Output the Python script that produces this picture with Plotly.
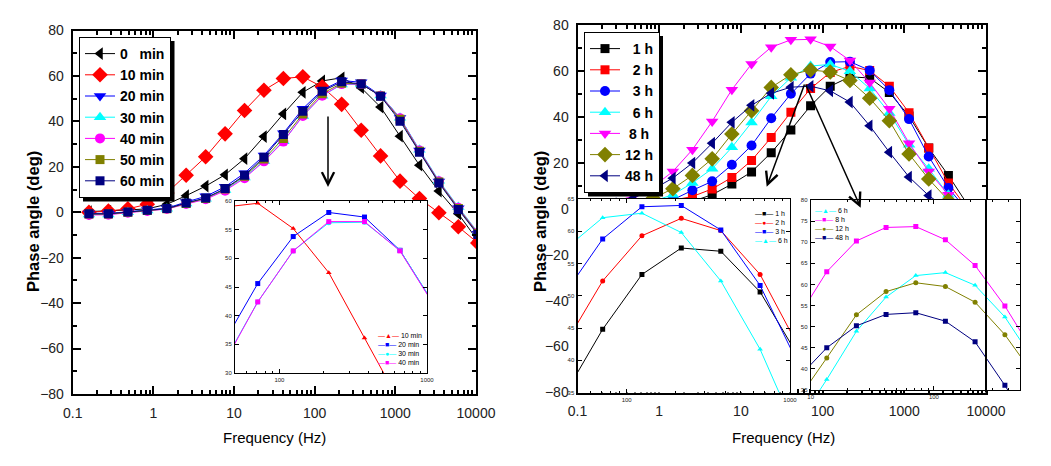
import plotly.graph_objects as go

# browser page adds an 8 px body margin; the figure is sized to fit inside it
PAGE_W, PAGE_H, BODY = 1051, 466, 8
W, H = PAGE_W - 2 * BODY, PAGE_H - 2 * BODY

# ---------------- data ----------------
freq = [0.159, 0.277, 0.483, 0.841, 1.47, 2.55, 4.45, 7.75, 13.5, 23.5, 40.9,
        71.3, 124, 216, 377, 656, 1143, 1991, 3467, 6039, 10520]

# left panel (immersion minutes)
phase_0min = [0.3, 0.5, 1, 1.5, 3.5, 7.3, 11.5, 16.5, 23.6, 33.3, 43.3, 52.8, 57.8, 59.2, 54.8, 46.3, 33.5, 20.7, 9.3, -0.7, -12.5]
phase_10min = [0.0, 0.5, 1.5, 3.5, 8.5, 16.3, 24.4, 34.5, 44.8, 53.7, 58.9, 59.6, 55.2, 47.5, 36.1, 24.8, 13.7, 6.0, -0.2, -6.4, -13.5]
phase_20min = [-0.5, -0.5, 0.2, 1.0, 1.8, 4.5, 7.0, 11.2, 17.2, 25.0, 34.8, 45.6, 53.8, 58.0, 57.2, 51.4, 41.5, 27.2, 13.5, 1.8, -9.5]
phase_30min = [-1.0, -1.0, 0, 0.8, 1.5, 3.8, 5.9, 9.8, 15.3, 22.6, 31.3, 42.4, 51.3, 56.2, 56.3, 51.4, 41.6, 27.5, 13.9, 2.3, -8.8]
phase_40min = [-1.2, -1.1, -0.2, 0.6, 1.4, 3.6, 5.7, 9.5, 15.0, 22.4, 31.1, 42.4, 51.3, 56.4, 56.4, 51.3, 41.4, 27.2, 13.6, 2.0, -9.0]
phase_50min = [-0.8, -0.8, 0, 0.8, 1.5, 3.9, 6.1, 10.2, 15.9, 23.4, 32.5, 43.2, 52.2, 56.8, 56.5, 51.2, 40.9, 26.8, 13.3, 1.7, -9.3]
phase_60min = [-0.7, -0.7, 0.1, 0.9, 1.6, 4.1, 6.3, 10.4, 16.3, 24.2, 34.2, 44.5, 53.3, 57.4, 56.5, 51.1, 40.1, 26.4, 12.9, 1.2, -9.8]

# right panel (immersion hours)
phase_1h = [-1, -0.5, 0, 1, 2, 3.2, 6.1, 10.7, 16.0, 24.4, 34.3, 44.8, 53.3, 57.4, 56.9, 50.6, 40.3, 26.4, 14.5, 1.4, -10]
phase_2h = [-1, -0.5, 0.5, 2, 3.5, 5.3, 8.6, 13.6, 21.0, 31.0, 42.0, 52.3, 59.3, 62.0, 60.1, 53.3, 41.8, 26.4, 11.2, -0.4, -11]
phase_3h = [-1.5, -1, -0.5, 1.5, 3.9, 8.0, 11.9, 19.1, 27.5, 39.4, 50.0, 58.8, 63.8, 64.0, 60.2, 51.6, 39.0, 22.7, 9.0, -1.2, -12]
phase_6h = [-1.5, -0.5, 1.0, 3.2, 6.1, 11.2, 17.4, 26.7, 37.5, 48.9, 57.0, 62.1, 62.8, 59.8, 52.3, 41.7, 27.8, 17.4, 6.1, -2.6, -13]
phase_8h = [1.5, 3, 5.5, 9.5, 16.2, 25.7, 38.0, 51.8, 63.0, 70.3, 73.5, 73.7, 70.6, 64.5, 54.9, 43.5, 28.5, 16.2, 6.1, -3.3, -14]
phase_12h = [-1.9, -1.2, 1.7, 4.5, 8.7, 14.5, 21.7, 32.5, 42.6, 52.8, 58.3, 60.4, 59.5, 55.8, 48.1, 38.3, 23.8, 12.9, 3.6, -4.0, -14]
phase_48h = [0.7, 2.2, 4.6, 8.5, 13.3, 19.9, 28.5, 37.6, 45.0, 50.2, 52.9, 53.3, 51.3, 46.4, 36.1, 24.6, 13.8, 5.7, -0.4, -6.7, -16]

x_tick_vals = [0.1, 1, 10, 100, 1000, 10000]
x_tick_text = ["0.1", "1", "10", "100", "1000", "10000"]
y_tick_vals = [-80, -60, -40, -20, 0, 20, 40, 60, 80]

inset_left_xticks = [100, 1000]
inset_right1_xticks = [100, 1000]
inset_right2_xticks = [10, 100]

# ---------------- helpers (page pixel -> paper fraction) ----------------
def px(x):
    return (x - BODY) / W

def py(y):
    return 1 - (y - BODY) / H

BLACK, RED, BLUE, CYAN = "#000000", "#FF0000", "#0000FF", "#00FFFF"
MAGENTA, OLIVE, NAVY = "#FF00FF", "#808000", "#000080"

fig = go.Figure()

left_series = [
    ("0\u00a0\u00a0\u00a0min", phase_0min, BLACK, "triangle-left", 11),
    ("10 min", phase_10min, RED, "diamond", 12),
    ("20 min", phase_20min, BLUE, "triangle-down", 11),
    ("30 min", phase_30min, CYAN, "triangle-up", 11),
    ("40 min", phase_40min, MAGENTA, "circle", 10),
    ("50 min", phase_50min, OLIVE, "square", 9),
    ("60 min", phase_60min, NAVY, "square", 9),
]
for name, vals, col, sym, sz in left_series:
    fig.add_trace(go.Scatter(x=freq, y=vals, name=name, mode="lines+markers",
                             line=dict(color=col, width=1),
                             marker=dict(color=col, symbol=sym, size=sz),
                             xaxis="x", yaxis="y", legend="legend"))

right_series = [
    ("\u00a0\u00a01 h", phase_1h, BLACK, "square", 9),
    ("\u00a0\u00a02 h", phase_2h, RED, "square", 9),
    ("\u00a0\u00a03 h", phase_3h, BLUE, "circle", 10),
    ("\u00a0\u00a06 h", phase_6h, CYAN, "triangle-up", 11),
    ("\u00a08 h", phase_8h, MAGENTA, "triangle-down", 11),
    ("12 h", phase_12h, OLIVE, "diamond", 12),
    ("48 h", phase_48h, NAVY, "triangle-left", 11),
]
for name, vals, col, sym, sz in right_series:
    fig.add_trace(go.Scatter(x=freq, y=vals, name=name, mode="lines+markers",
                             line=dict(color=col, width=1),
                             marker=dict(color=col, symbol=sym, size=sz),
                             xaxis="x2", yaxis="y2", legend="legend2"))

# insets
inset_left = [(phase_10min, RED, "triangle-up"), (phase_20min, BLUE, "square"),
              (phase_30min, CYAN, "circle"), (phase_40min, MAGENTA, "square")]
for vals, col, sym in inset_left:
    fig.add_trace(go.Scatter(x=freq, y=vals, mode="lines+markers", showlegend=False,
                             line=dict(color=col, width=1),
                             marker=dict(color=col, symbol=sym, size=5),
                             xaxis="x3", yaxis="y3"))

inset_r1 = [(phase_1h, BLACK, "square"), (phase_2h, RED, "circle"),
            (phase_3h, BLUE, "square"), (phase_6h, CYAN, "triangle-up")]
for vals, col, sym in inset_r1:
    fig.add_trace(go.Scatter(x=freq, y=vals, mode="lines+markers", showlegend=False,
                             line=dict(color=col, width=1),
                             marker=dict(color=col, symbol=sym, size=5),
                             xaxis="x4", yaxis="y4"))

inset_r2 = [(phase_6h, CYAN, "triangle-up"), (phase_8h, MAGENTA, "square"),
            (phase_12h, OLIVE, "circle"), (phase_48h, NAVY, "square")]
for vals, col, sym in inset_r2:
    fig.add_trace(go.Scatter(x=freq, y=vals, mode="lines+markers", showlegend=False,
                             line=dict(color=col, width=1),
                             marker=dict(color=col, symbol=sym, size=5),
                             xaxis="x5", yaxis="y5"))

TICKFONT = dict(family="Liberation Sans Narrow, Liberation Sans, Arial", size=14, color="#222")
SMALLFONT = dict(family="Liberation Sans, Arial", size=6, color="#222")

def main_x(domain, anchor):
    return dict(type="log", range=[-1, 4], domain=domain, anchor=anchor, automargin=False,
                tickmode="array", tickvals=x_tick_vals, ticktext=x_tick_text,
                ticks="inside", ticklen=8, tickwidth=2, tickcolor="black",
                minor=dict(ticks="inside", ticklen=4, tickwidth=1.5, tickcolor="black", dtick="D1"),
                showline=True, linewidth=2, linecolor="black", mirror="allticks",
                showgrid=False, zeroline=False, tickfont=TICKFONT, ticklabelstandoff=5)

def main_y(domain, anchor):
    return dict(range=[-80, 80], domain=domain, anchor=anchor, automargin=False,
                tickmode="array", tickvals=y_tick_vals,
                ticks="inside", ticklen=8, tickwidth=2, tickcolor="black",
                minor=dict(ticks="inside", ticklen=4, tickwidth=1.5, tickcolor="black", dtick=10),
                showline=True, linewidth=2, linecolor="black", mirror="allticks",
                showgrid=False, zeroline=False, tickfont=TICKFONT, ticklabelstandoff=4)

def inset_x(domain, anchor, rng, tv):
    return dict(type="log", range=rng, domain=domain, anchor=anchor, automargin=False,
                tickmode="array", tickvals=tv, ticktext=[str(v) for v in tv],
                ticks="inside", ticklen=4, tickwidth=1, tickcolor="black",
                minor=dict(ticks="inside", ticklen=2, tickwidth=1, tickcolor="black", dtick="D1"),
                showline=True, linewidth=1, linecolor="black", mirror="allticks",
                showgrid=False, zeroline=False, tickfont=SMALLFONT, ticklabelstandoff=1)

def inset_y(domain, anchor, rng):
    return dict(range=rng, domain=domain, anchor=anchor, dtick=5, automargin=False,
                ticks="inside", ticklen=4, tickwidth=1, tickcolor="black",
                showline=True, linewidth=1, linecolor="black", mirror="allticks",
                showgrid=False, zeroline=False, tickfont=SMALLFONT, ticklabelstandoff=1)

LEGFONT = dict(family="Liberation Sans Narrow, Liberation Sans, Arial", size=14, color="black", weight="bold")

fig.update_layout(
    width=W, height=H, margin=dict(l=0, r=0, t=0, b=0, autoexpand=False),
    paper_bgcolor="white", plot_bgcolor="white",
    xaxis=main_x([px(72.7), px(476)], "y"),
    yaxis=main_y([py(394), py(30.5)], "x"),
    xaxis2=main_x([px(577.5), px(986)], "y2"),
    yaxis2=main_y([py(392.5), py(24.9)], "x2"),
    xaxis3=inset_x([px(235), px(427)], "y3", [1.699, 3.0], inset_left_xticks),
    yaxis3=inset_y([py(373), py(201)], "x3", [30, 60]),
    xaxis4=inset_x([px(577.5), px(790)], "y4", [1.699, 3.0], inset_right1_xticks),
    yaxis4=inset_y([py(392.5), py(199)], "x4", [35, 65]),
    xaxis5=inset_x([px(810.7), px(1020)], "y5", [1.0, 2.699], inset_right2_xticks),
    yaxis5=inset_y([py(390), py(200)], "x5", [35, 80]),
    legend=dict(x=px(79), y=py(37), xanchor="left", yanchor="top",
                bgcolor="white", bordercolor="black", borderwidth=1,
                font=LEGFONT, itemwidth=30, tracegroupgap=0),
    legend2=dict(x=px(584), y=py(32), xanchor="left", yanchor="top",
                 bgcolor="white", bordercolor="black", borderwidth=1,
                 font=LEGFONT, itemwidth=30, tracegroupgap=0),
    showlegend=True,
)

# legend drop shadows
fig.add_shape(type="rect", xref="paper", yref="paper", layer="above",
              x0=px(83), x1=px(174.5), y0=py(41), y1=py(201.5),
              fillcolor="black", line=dict(width=0))
fig.add_shape(type="rect", xref="paper", yref="paper", layer="above",
              x0=px(588), x1=px(663), y0=py(36), y1=py(196.5),
              fillcolor="black", line=dict(width=0))
# main right axis frame drawn over the second inset
fig.add_shape(type="line", xref="paper", yref="paper", layer="above",
              x0=px(986), x1=px(986), y0=py(200), y1=py(392.5),
              line=dict(color="black", width=2))

TITLEFONT = dict(family="Liberation Sans, Arial", size=16.5, color="black", weight="bold")
XTFONT = dict(family="Liberation Sans, Arial", size=15, color="black")
for xc in (33, 540):
    fig.add_annotation(text="Phase angle (deg)", xref="paper", yref="paper",
                       x=px(xc), y=py(222), textangle=-90, showarrow=False,
                       font=TITLEFONT, xanchor="center", yanchor="middle")
for xc in (274, 783):
    fig.add_annotation(text="Frequency (Hz)", xref="paper", yref="paper",
                       x=px(xc), y=py(437), showarrow=False,
                       font=XTFONT, xanchor="center", yanchor="middle")

# arrows
arrows = [((328, 187), (328, 115)), ((766.7, 186.7), (805, 83)), ((860.7, 207.7), (805, 83))]
for (hx, hy), (tx, ty) in arrows:
    fig.add_annotation(text="", xref="paper", yref="paper", x=px(hx), y=py(hy),
                       ax=tx - hx, ay=ty - hy, showarrow=True, arrowhead=5,
                       arrowsize=1.6, arrowwidth=1.5, arrowcolor="black", standoff=0)

# inset legends (compact text legends)
def leg_line(col, glyph, label):
    return f'<span style="color:{col}">\u2014{glyph}\u2014</span> {label}'

ILEGFONT = dict(family="Liberation Sans, DejaVu Sans", size=7, color="black")
inset_legends = [
    ((424, 368), "right", "bottom",
     [(RED, "\u25b2", "10 min"), (BLUE, "\u25a0", "20 min"), (CYAN, "\u25cf", "30 min"), (MAGENTA, "\u25a0", "40 min")]),
    ((790, 208), "right", "top",
     [(BLACK, "\u25a0", "1 h"), (RED, "\u25cf", "2 h"), (BLUE, "\u25a0", "3 h"), (CYAN, "\u25b2", "6 h")]),
    ((813, 205), "left", "top",
     [(CYAN, "\u25b2", "6 h"), (MAGENTA, "\u25a0", "8 h"), (OLIVE, "\u25cf", "12 h"), (NAVY, "\u25a0", "48 h")]),
]
for (lx, ly), xa, ya, items in inset_legends:
    fig.add_annotation(text="<br>".join(leg_line(*it) for it in items),
                       xref="paper", yref="paper", x=px(lx), y=py(ly),
                       xanchor=xa, yanchor=ya, align="left", showarrow=False,
                       font=ILEGFONT)

fig.write_html("out.html")
